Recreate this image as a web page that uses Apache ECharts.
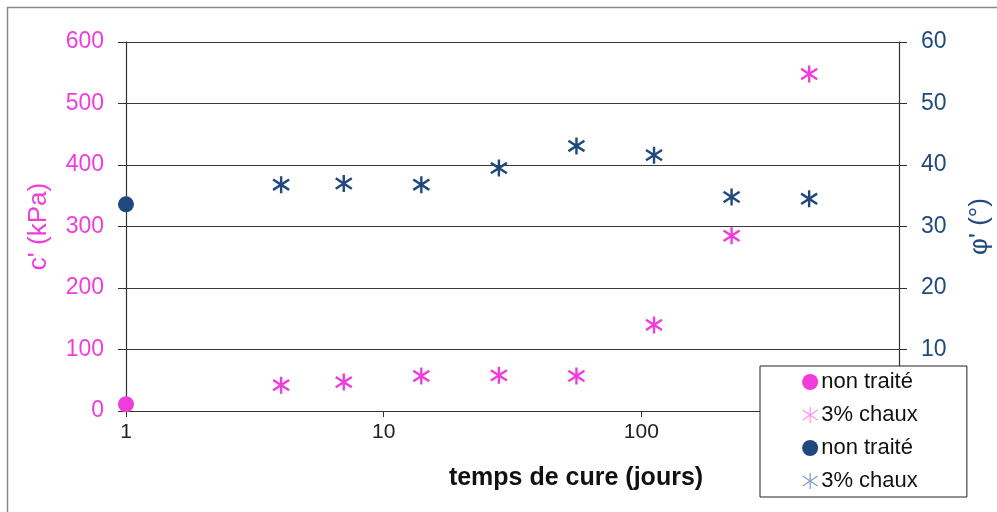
<!DOCTYPE html>
<html>
<head>
<meta charset="utf-8">
<script src="https://cdn.jsdelivr.net/npm/echarts@6/dist/echarts.min.js"></script>
<style>
  html, body { margin: 0; padding: 0; background: #fff; }
  #chart { width: 997px; height: 512px; }
</style>
</head>
<body>
<div id="chart"></div>
<script>
// temps de cure (jours)
var days = [4, 7, 14, 28, 56, 112, 224, 448];
// c' (kPa), sol traité 3% chaux
var cChaux = [42, 47, 57, 58, 57, 140, 285, 548];
// phi' (deg), sol traité 3% chaux
var phiChaux = [36.8, 37.0, 36.8, 39.5, 43.1, 41.6, 34.8, 34.5];
// sol non traité (jour 1)
var dayNonTraite = [1];
var cNonTraite = [11];
var phiNonTraite = [33.6];
var leftTicks = [0, 100, 200, 300, 400, 500, 600];
var rightTicks = [0, 10, 20, 30, 40, 50, 60];

var pink = '#F03CDA';
var blue = '#1F497D';
// étoile excel : trait vertical + croix
var star = 'path://M0,-9L0,9M-8.5,-5.5L8.5,5.5M-8.5,5.5L8.5,-5.5';

function pairs(xs, ys) {
  return xs.map(function (x, i) { return [x, ys[i]]; });
}

var mychart = echarts.init(document.getElementById('chart'));
var options = {
  animation: false,
  textStyle: { fontFamily: '"Liberation Sans", Arial, sans-serif' },
  grid: { left: 126, right: 98, top: 42, bottom: 101, containLabel: false, outerBoundsMode: 'none' },
  graphic: [
    {
      type: 'rect',
      shape: { x: 7.5, y: 7.5, width: 1000, height: 520 },
      style: { fill: 'none', stroke: '#8a8a8a', lineWidth: 1.5 },
      silent: true
    },
    {
      type: 'text',
      x: 576,
      y: 478,
      style: {
        text: 'temps de cure (jours)',
        font: 'bold 25px "Liberation Sans", Arial, sans-serif',
        fill: '#111',
        textAlign: 'center',
        textVerticalAlign: 'middle'
      }
    }
  ],
  legend: {
    orient: 'vertical',
    left: 760,
    top: 366,
    padding: [5, 43, 5, 42],
    itemGap: 11,
    itemWidth: 16,
    itemHeight: 16,
    backgroundColor: '#fff',
    borderColor: '#222',
    borderWidth: 1,
    borderRadius: 0,
    textStyle: { fontSize: 22, color: '#111', padding: [0, 0, 0, -2] },
    data: [
      { name: 'non traité', icon: 'circle' },
      { name: '3% chaux', itemStyle: { color: '#FF8EF0', borderColor: '#FF8EF0', borderWidth: 1.2 } },
      { name: 'non traité ', icon: 'circle' },
      { name: '3% chaux ', itemStyle: { color: '#7E9FCB', borderColor: '#7E9FCB', borderWidth: 1.2 } }
    ]
  },
  xAxis: {
    type: 'log',
    logBase: 10,
    min: 1,
    max: 1000,
    axisLine: { show: true, onZero: false, lineStyle: { color: '#333', width: 1.2 } },
    axisTick: { show: true, length: 6, lineStyle: { color: '#333' } },
    minorTick: { show: false },
    splitLine: { show: false },
    axisLabel: { fontSize: 21, color: '#222', margin: 11 }
  },
  yAxis: [
    {
      type: 'value',
      min: leftTicks[0],
      max: leftTicks[leftTicks.length - 1],
      interval: leftTicks[1] - leftTicks[0],
      position: 'left',
      name: "c' (kPa)",
      nameLocation: 'middle',
      nameRotate: 90,
      nameGap: 74,
      nameTextStyle: { color: pink, fontSize: 26 },
      axisLine: { show: true, lineStyle: { color: '#333', width: 1.2 } },
      axisTick: { show: true, length: 8, lineStyle: { color: '#333' } },
      axisLabel: { fontSize: 23, color: pink, margin: 22 },
      splitLine: { show: true, lineStyle: { color: '#3a3a3a', width: 1.2 } }
    },
    {
      type: 'value',
      min: rightTicks[0],
      max: rightTicks[rightTicks.length - 1],
      interval: rightTicks[1] - rightTicks[0],
      position: 'right',
      name: "φ' (°)",
      nameLocation: 'middle',
      nameRotate: 90,
      nameGap: 68,
      nameTextStyle: { color: blue, fontSize: 26 },
      axisLine: { show: true, lineStyle: { color: '#333', width: 1.2 } },
      axisTick: { show: true, length: 8, lineStyle: { color: '#333' } },
      axisLabel: { fontSize: 23, color: blue, margin: 22 },
      splitLine: { show: false }
    }
  ],
  series: [
    {
      name: 'non traité',
      type: 'scatter',
      yAxisIndex: 0,
      symbol: 'circle',
      symbolSize: 16,
      clip: false,
      itemStyle: { color: pink, opacity: 1 },
      emphasis: { disabled: true },
      data: pairs(dayNonTraite, cNonTraite)
    },
    {
      name: '3% chaux',
      type: 'scatter',
      yAxisIndex: 0,
      symbol: star,
      symbolSize: 17,
      symbolKeepAspect: true,
      clip: false,
      itemStyle: { color: pink, borderColor: pink, borderWidth: 2.4, opacity: 1 },
      emphasis: { disabled: true },
      data: pairs(days, cChaux)
    },
    {
      name: 'non traité ',
      type: 'scatter',
      yAxisIndex: 1,
      symbol: 'circle',
      symbolSize: 16,
      clip: false,
      itemStyle: { color: blue, opacity: 1 },
      emphasis: { disabled: true },
      data: pairs(dayNonTraite, phiNonTraite)
    },
    {
      name: '3% chaux ',
      type: 'scatter',
      yAxisIndex: 1,
      symbol: star,
      symbolSize: 17,
      symbolKeepAspect: true,
      clip: false,
      itemStyle: { color: blue, borderColor: blue, borderWidth: 2.4, opacity: 1 },
      emphasis: { disabled: true },
      data: pairs(days, phiChaux)
    }
  ]
};
mychart.setOption(options);
</script>
</body>
</html>
